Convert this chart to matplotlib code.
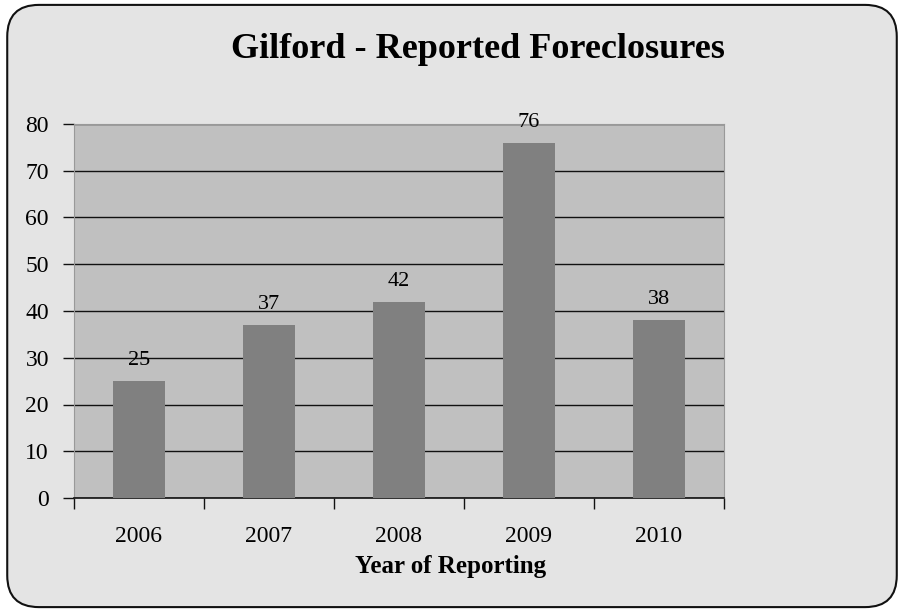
import matplotlib
matplotlib.use("Agg")
import matplotlib.pyplot as plt
from matplotlib.patches import FancyBboxPatch
import numpy as np

years = ["2006", "2007", "2008", "2009", "2010"]
counts = [25, 37, 42, 76, 38]
yticks = [0, 10, 20, 30, 40, 50, 60, 70, 80]

plt.rcParams['font.family'] = ['Liberation Serif', 'DejaVu Serif']

fig = plt.figure(figsize=(9.04, 6.12), dpi=100)
fig.patch.set_facecolor('white')

frame = FancyBboxPatch((0.008, 0.008), 0.984, 0.984,
                       boxstyle="round,pad=0,rounding_size=0.035",
                       transform=fig.transFigure, facecolor='#e4e4e4',
                       edgecolor='#111111', linewidth=1.5, zorder=-10,
                       mutation_aspect=904/612)
fig.patches.append(frame)

ax = fig.add_axes([74/904, 1 - 498/612, (724 - 74)/904, (498 - 124)/612])
ax.set_zorder(1)
ax.set_facecolor('#c0c0c0')
x = np.arange(len(years))
ax.bar(x, counts, width=0.4, color='#808080', zorder=3)
ax.set_xlim(-0.5, len(years) - 0.5)
ax.set_ylim(0, 80)
ax.set_yticks(yticks)
ax.set_yticklabels([str(v) for v in yticks], fontsize=17)
ax.yaxis.grid(True, color='#111111', linewidth=1.0, zorder=1)
ax.set_axisbelow(True)
ax.tick_params(axis='y', length=8, width=1, color='#111111', pad=10)

ax.set_xticks(x)
ax.set_xticklabels(years, fontsize=17)
ax.tick_params(axis='x', which='major', length=0, pad=20)
ax.set_xticks(np.arange(-0.5, len(years)), minor=True)
ax.tick_params(axis='x', which='minor', length=8, width=1, color='#111111')

for s in ['left', 'top', 'right']:
    ax.spines[s].set_color('#999999')
    ax.spines[s].set_linewidth(0.8)
ax.spines['bottom'].set_color('#111111')
ax.spines['bottom'].set_linewidth(1.2)

for xi, v in zip(x, counts):
    ax.annotate(str(v), (xi, v), xytext=(0, 8), textcoords='offset points',
                ha='center', va='bottom', fontsize=16, zorder=4)

fig.text(451/904, 1 - 567/612, "Year of Reporting",
         ha='center', va='center', fontsize=18, fontweight='bold')
fig.text(478/904, 1 - 49/612, "Gilford - Reported Foreclosures",
         ha='center', va='center', fontsize=26, fontweight='bold')

fig.savefig("out.png", dpi=100, facecolor=fig.get_facecolor())
